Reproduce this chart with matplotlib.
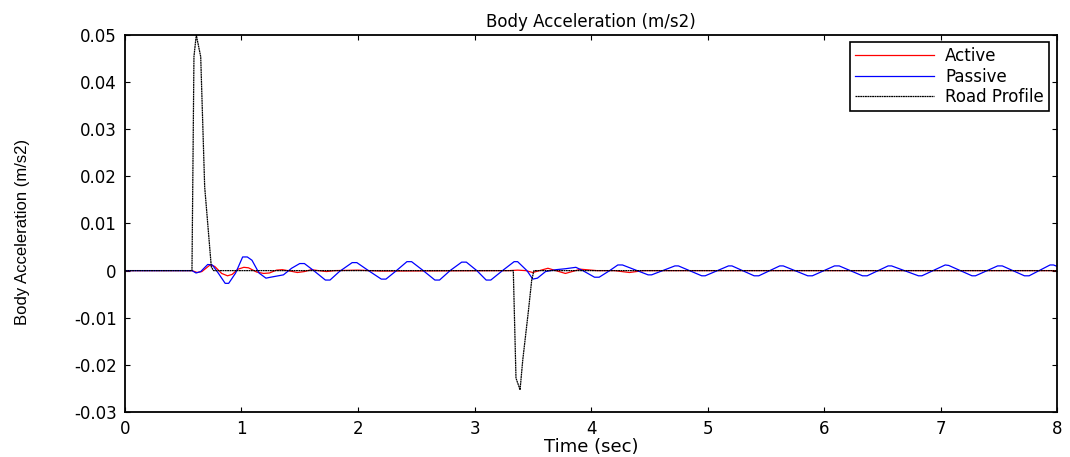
import numpy as np
import matplotlib
matplotlib.use("agg")
import matplotlib.pyplot as plt
from matplotlib.ticker import FixedLocator, FuncFormatter

plt.rcParams["axes.unicode_minus"] = False
plt.rcParams["font.family"] = ["DejaVu Sans"]

# Road profile (black, dotted)
road_t = [0.0, 0.575, 0.592, 0.612, 0.650, 0.684, 0.741, 0.76,
          3.333, 3.356, 3.391, 3.414, 3.462, 3.491, 3.51, 8.0]
road_acc = [0.0, 0.0, 0.0454, 0.0500, 0.0454, 0.0178, 0.0008, 0.0,
            0.0, -0.0228, -0.0253, -0.0190, -0.0087, -0.0020, 0.0, 0.0]

# Passive suspension (blue)
passive_t = [0.0, 0.575, 0.61, 0.65, 0.71, 0.75, 0.80, 0.86, 0.89, 0.95,
             1.01, 1.05, 1.09, 1.15, 1.21, 1.25, 1.36, 1.43, 1.50, 1.54,
             1.62, 1.72, 1.76, 1.84, 1.95, 1.99, 2.09, 2.20, 2.24, 2.33,
             2.42, 2.46, 2.56, 2.66, 2.70, 2.79, 2.89, 2.93, 3.02, 3.10,
             3.14, 3.24, 3.34, 3.37, 3.45, 3.50, 3.54, 3.61, 3.70, 3.78,
             3.87, 3.93, 4.03, 4.07, 4.16, 4.23, 4.27, 4.49, 4.52, 4.72,
             4.75, 4.95, 4.98, 5.18, 5.21, 5.40, 5.44, 5.62, 5.65, 5.86,
             5.90, 6.09, 6.13, 6.33, 6.37, 6.55, 6.58, 6.81, 6.84, 7.04,
             7.07, 7.27, 7.30, 7.49, 7.53, 7.72, 7.76, 7.94, 7.97, 8.0]
passive_acc = [0.0, 0.0, -0.0005, -0.0002, 0.0013, 0.0012, -0.0005, -0.0027, -0.0027, -0.0005,
               0.0029, 0.0029, 0.0022, -0.0005, -0.0016, -0.0014, -0.0009, 0.0005, 0.0015, 0.0015,
               0.0000, -0.0020, -0.0020, -0.0002, 0.0017, 0.0017, 0.0000, -0.0018, -0.0018, 0.0000,
               0.0019, 0.0019, 0.0000, -0.0020, -0.0020, 0.0000, 0.0018, 0.0018, 0.0000, -0.0020,
               -0.0020, 0.0000, 0.0019, 0.0019, 0.0000, -0.0018, -0.0016, -0.0002, 0.0002, 0.0004,
               0.0007, 0.0000, -0.0014, -0.0014, 0.0000, 0.0012, 0.0012, -0.0009, -0.0009, 0.0010,
               0.0010, -0.0011, -0.0011, 0.0010, 0.0010, -0.0011, -0.0011, 0.0010, 0.0010, -0.0011,
               -0.0011, 0.0010, 0.0010, -0.0011, -0.0011, 0.0010, 0.0010, -0.0011, -0.0011, 0.0012,
               0.0011, -0.0011, -0.0011, 0.0010, 0.0010, -0.0011, -0.0011, 0.0012, 0.0012, 0.0009]

# Active suspension (red)
active_t = [0.0, 0.575, 0.62, 0.66, 0.73, 0.77, 0.83, 0.88, 0.92, 0.97,
            1.02, 1.06, 1.13, 1.19, 1.24, 1.30, 1.35, 1.42, 1.48, 1.54,
            1.60, 1.66, 1.73, 1.80, 2.00, 2.20, 3.30, 3.37, 3.44, 3.50,
            3.63, 3.78, 3.91, 4.05, 4.20, 4.33, 4.45, 8.0]
active_acc = [0.0, 0.0, -0.0004, -0.0002, 0.0012, 0.0009, -0.0006, -0.0011, -0.0008, 0.0003,
              0.0007, 0.0006, -0.0003, -0.0006, -0.0005, 0.0001, 0.0002, -0.0001, -0.0004, -0.0002,
              0.0002, 0.0000, -0.0002, 0.0000, 0.0001, -0.0001, 0.0000, 0.0001, 0.0000, -0.0004,
              0.0005, -0.0006, 0.0003, 0.0000, 0.0000, -0.0004, 0.0000, 0.0000]

x_ticks = [0, 1, 2, 3, 4, 5, 6, 7, 8]
y_ticks = [-0.03, -0.02, -0.01, 0, 0.01, 0.02, 0.03, 0.04, 0.05]

fig = plt.figure(figsize=(10.7, 4.57), dpi=100)
ax = fig.add_axes([0.1168, 0.0985, 0.8711, 0.8249])

ax.plot(active_t, active_acc, color="red", lw=0.9, label="Active")
ax.plot(passive_t, passive_acc, color="blue", lw=0.9, label="Passive")
ax.plot(road_t, road_acc, color="black", lw=0.9, linestyle=(0, (1.5, 0.4)),
        label="Road Profile")

ax.set_xlim(0, 8)
ax.set_ylim(-0.03, 0.05)
ax.xaxis.set_major_locator(FixedLocator(x_ticks))
ax.yaxis.set_major_locator(FixedLocator(y_ticks))
ax.yaxis.set_major_formatter(FuncFormatter(lambda v, p: "%g" % round(v, 3)))
ax.tick_params(direction="in", length=3.5, width=0.8, top=True, right=True,
               labelsize=12, pad=6)
for sp in ax.spines.values():
    sp.set_linewidth(1.3)

ax.set_title("Body Acceleration (m/s2)", fontsize=12, pad=6)
ax.set_xlabel("Time (sec)", fontsize=13, labelpad=0)
ax.set_ylabel("Body Acceleration (m/s2)", fontsize=12,
              family=["Liberation Sans", "DejaVu Sans"])
ax.yaxis.set_label_coords(-0.102, 0.477)

leg = ax.legend(loc="upper right", bbox_to_anchor=(0.9914, 0.981), borderaxespad=0,
                fontsize=12, fancybox=False, framealpha=1, edgecolor="black",
                handlelength=4.7, handletextpad=0.7, labelspacing=0.15,
                borderpad=0.3)
leg.get_frame().set_linewidth(1.2)

plt.savefig("out.png", dpi=100)
